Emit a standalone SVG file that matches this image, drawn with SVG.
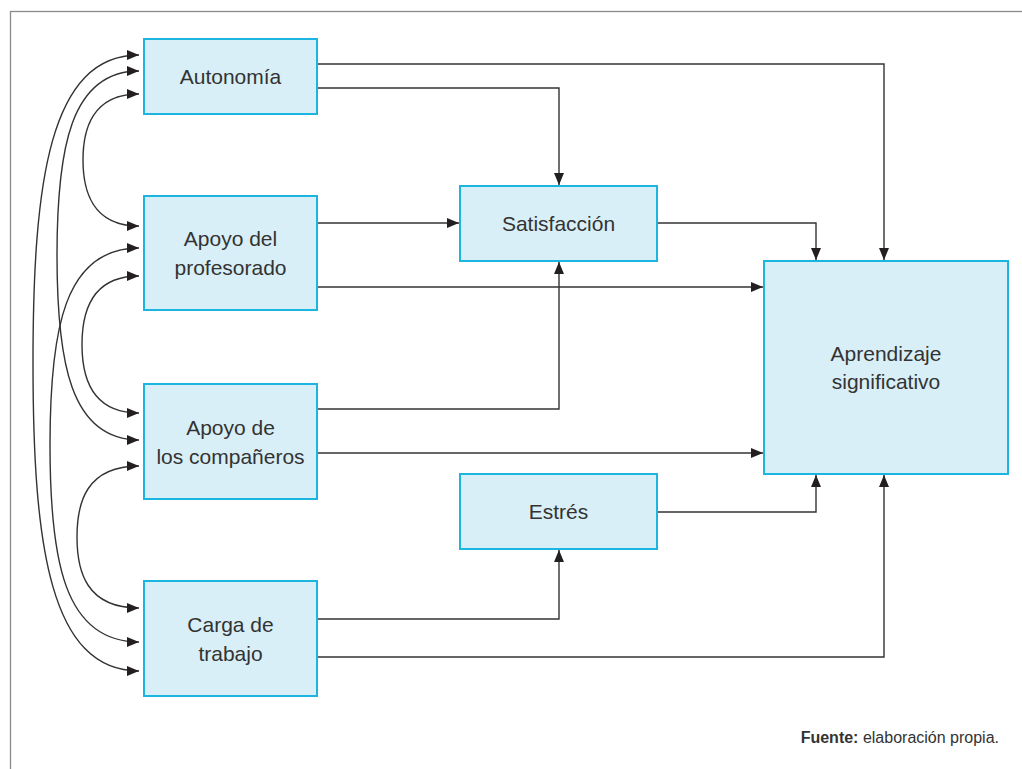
<svg xmlns="http://www.w3.org/2000/svg" width="1022" height="769" viewBox="0 0 1022 769">
<defs>
<marker id="ah" viewBox="0 0 12 10" markerWidth="12" markerHeight="10" refX="12" refY="5" markerUnits="userSpaceOnUse" orient="auto-start-reverse">
<path d="M0,0 L12,5 L0,10 z" fill="#231f20"/>
</marker>
<style>
.box{fill:#d9eff7;stroke:#1cb5e0;stroke-width:2}
.lbl{font-family:"Liberation Sans",Arial,sans-serif;font-size:21px;fill:#333;text-anchor:middle}
.c{fill:none;stroke:#333;stroke-width:1.4}
.a{marker-end:url(#ah)}
.d{marker-start:url(#ah);marker-end:url(#ah)}
</style>
</defs>
<rect width="1022" height="769" fill="#fff"/>
<rect x="10.5" y="11.5" width="1100" height="800" fill="none" stroke="#8a8a8a" stroke-width="1.3"/>
<g id="connectors">
<path class="c a" d="M317,64 H884 V260"/>
<path class="c a" d="M317,88 H559 V185"/>
<path class="c a" d="M317,223 H459"/>
<path class="c a" d="M317,287 H763"/>
<path class="c a" d="M657,223 H816 V260"/>
<path class="c a" d="M317,409 H559 V262"/>
<path class="c a" d="M317,453 H763"/>
<path class="c a" d="M657,512 H816 V475"/>
<path class="c a" d="M317,619 H559 V550"/>
<path class="c a" d="M317,657 H884 V475"/>
<path class="c d" d="M139,94 C92,94 83,130 83,160 C83,190 92,226 139,226"/>
<path class="c d" d="M139,276 C91,276 82,312 82,344.5 C82,377 91,413 139,413"/>
<path class="c d" d="M139,466 C86,466 77,503 77,537 C77,571 86,608 139,608"/>
<path class="c d" d="M139,71 C70,71 57,150 57,255.5 C57,361 70,440 139,440"/>
<path class="c d" d="M139,248 C64,248 50,330 50,445 C50,560 64,642 139,642"/>
<path class="c d" d="M139,55 C50,55 33,180 33,363 C33,546 50,671 139,671"/>
</g>
<g id="autonomia"><rect class="box" x="144" y="39" width="173" height="75"/><text class="lbl" x="230.5" y="84">Autonomía</text></g>
<g id="apoyo-profesorado"><rect class="box" x="144" y="196" width="173" height="114"/><text class="lbl" x="230.5" y="246">Apoyo del</text><text class="lbl" x="230.5" y="275">profesorado</text></g>
<g id="apoyo-companeros"><rect class="box" x="144" y="384" width="173" height="115"/><text class="lbl" x="230.5" y="435">Apoyo de</text><text class="lbl" x="230.5" y="464">los compañeros</text></g>
<g id="carga-trabajo"><rect class="box" x="144" y="581" width="173" height="115"/><text class="lbl" x="230.5" y="632">Carga de</text><text class="lbl" x="230.5" y="661">trabajo</text></g>
<g id="satisfaccion"><rect class="box" x="460" y="186" width="197" height="75"/><text class="lbl" x="558.5" y="231">Satisfacción</text></g>
<g id="estres"><rect class="box" x="460" y="474" width="197" height="75"/><text class="lbl" x="558.5" y="519">Estrés</text></g>
<g id="aprendizaje"><rect class="box" x="764" y="261" width="244" height="213"/><text class="lbl" x="886" y="361">Aprendizaje</text><text class="lbl" x="886" y="389">significativo</text></g>
<text x="999" y="743" font-family="Liberation Sans, Arial, sans-serif" font-size="16" fill="#333" text-anchor="end"><tspan font-weight="bold">Fuente:</tspan> elaboración propia.</text>
</svg>
